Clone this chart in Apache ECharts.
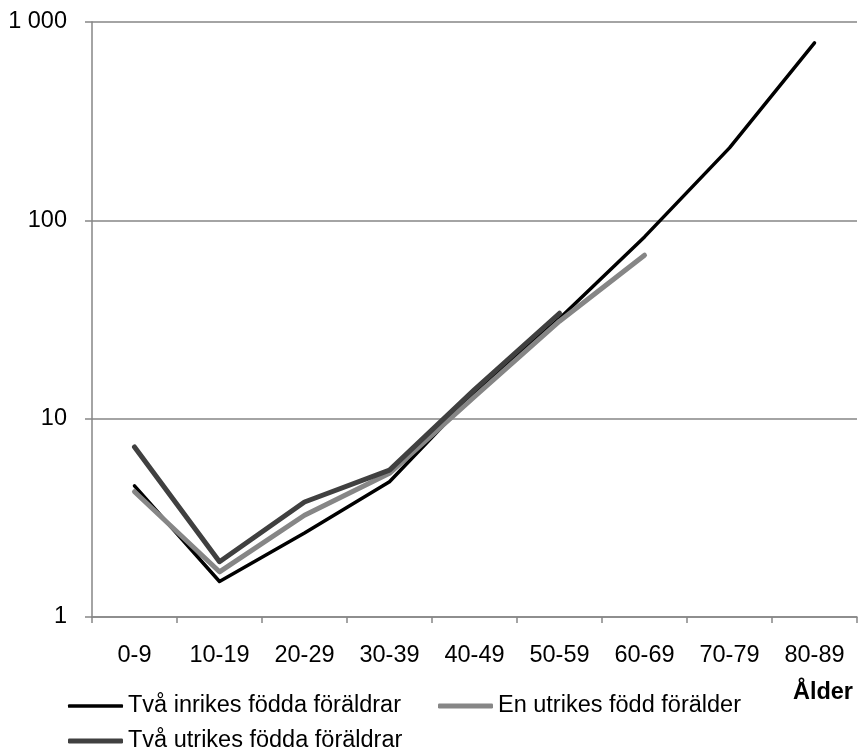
<!DOCTYPE html>
<html>
<head>
<meta charset="utf-8">
<script src="https://cdn.jsdelivr.net/npm/echarts@6/dist/echarts.min.js"></script>
<style>html,body{margin:0;padding:0;background:#fff}#c{width:858px;height:748px}</style>
</head>
<body>
<div id="c"></div>
<script>
const categories = ['0-9','10-19','20-29','30-39','40-49','50-59','60-69','70-79','80-89'];
const inrikes = [4.58, 1.51, 2.65, 4.81, 13.5, 32, 82.5, 232, 785];
const enUtrikes = [4.28, 1.69, 3.26, 5.3, 12.9, 31, 66.7, null, null];
const tvaUtrikes = [7.2, 1.9, 3.8, 5.5, 14.0, 34, null, null, null];
const seriesNames = ['Två inrikes födda föräldrar', 'En utrikes född förälder', 'Två utrikes födda föräldrar'];
const yTicks = [1, 10, 100, 1000];

const font = 'Liberation Sans, Arial, sans-serif';
const fs = 23.5;
const gridColor = '#868686';
const chart = echarts.init(document.getElementById('c'), null, {renderer: 'canvas'});
function legendAt(name, left, top, color, h) {
  return {
    data: [name], left: left, top: top, padding: 0, orient: 'horizontal',
    icon: 'roundRect', itemWidth: 55, itemHeight: h,
    itemStyle: {color: color, borderWidth: 0},
    textStyle: {fontFamily: font, fontSize: fs, color: '#000', lineHeight: 24}
  };
}
chart.setOption({
  animation: false,
  backgroundColor: '#fff',
  grid: {left: 92, top: 22, width: 765, height: 595, containLabel: false},
  legend: [
    legendAt(seriesNames[0], 68, 694, '#000000', 3.5),
    legendAt(seriesNames[1], 438, 694, '#868686', 5),
    legendAt(seriesNames[2], 68, 729, '#404040', 5)
  ],
  xAxis: {
    type: 'category', data: categories, boundaryGap: true,
    name: 'Ålder', nameLocation: 'end', nameGap: -4,
    nameTextStyle: {fontFamily: font, fontSize: fs, fontWeight: 'bold', color: '#000', align: 'right', verticalAlign: 'top', padding: [64, 0, 0, 0]},
    axisLine: {lineStyle: {color: gridColor, width: 1.5}},
    axisTick: {show: true, length: 6, lineStyle: {color: gridColor, width: 1.5}},
    axisLabel: {fontFamily: font, fontSize: fs, color: '#000', margin: 27, interval: 0}
  },
  yAxis: {
    type: 'log', logBase: 10, min: yTicks[0], max: yTicks[yTicks.length - 1],
    axisLine: {show: true, lineStyle: {color: gridColor, width: 1.5}},
    axisTick: {show: true, length: 7, lineStyle: {color: gridColor, width: 1.5}},
    splitLine: {show: true, lineStyle: {color: gridColor, width: 1.5}},
    axisLabel: {fontFamily: font, fontSize: fs, color: '#000', margin: 25,
      formatter: v => String(Math.round(v)).replace(/\B(?=(\d{3})+(?!\d))/g, ' ')}
  },
  series: [
    {name: seriesNames[0], type: 'line', data: inrikes, symbol: 'none', z: 2,
      lineStyle: {color: '#000000', width: 3.5, cap: 'round', join: 'round'}, itemStyle: {color: '#000000'}},
    {name: seriesNames[1], type: 'line', data: enUtrikes, symbol: 'none', z: 3,
      lineStyle: {color: '#868686', width: 5, cap: 'round', join: 'round'}, itemStyle: {color: '#868686'}},
    {name: seriesNames[2], type: 'line', data: tvaUtrikes, symbol: 'none', z: 4,
      lineStyle: {color: '#404040', width: 5, cap: 'round', join: 'round'}, itemStyle: {color: '#404040'}}
  ]
});
</script>
</body>
</html>
